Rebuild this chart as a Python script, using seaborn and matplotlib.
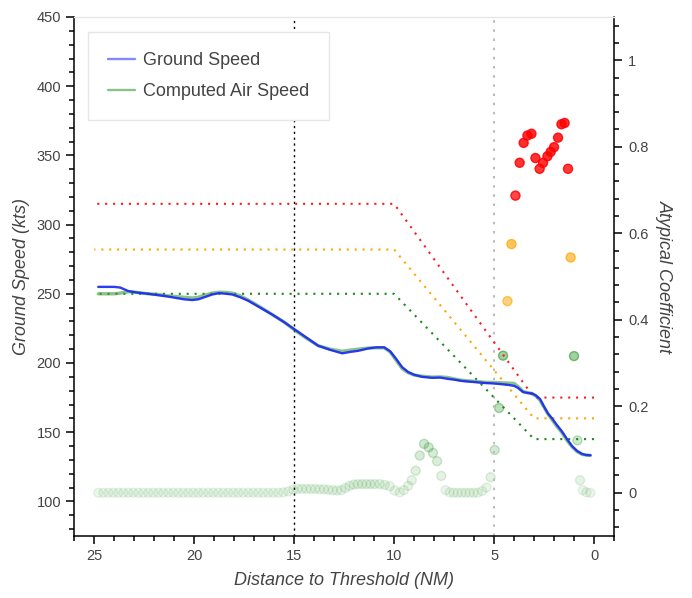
import numpy as np
import pandas as pd
import matplotlib
matplotlib.use("Agg")
import matplotlib.pyplot as plt
import seaborn as sns
from matplotlib.ticker import MultipleLocator
from matplotlib.lines import Line2D
from matplotlib.colors import to_rgba

# ---------------- data ----------------
speed_dist = [24.8, 24.0, 23.7, 23.3, 22.9, 22.3, 21.8, 21.3, 20.9, 20.5,
              20.1, 19.8, 19.5, 19.1, 18.75, 18.4, 18.1, 17.7, 17.3, 16.7,
              16.1, 15.5, 15.0, 14.4, 13.8, 13.2, 12.6, 12.2, 11.8, 11.3,
              10.9, 10.5, 10.2, 9.9, 9.6, 9.3, 9.0, 8.6, 8.1, 7.7,
              7.3, 7.0, 6.6, 6.2, 5.8, 5.4, 5.1, 4.7, 4.3, 4.0,
              3.8, 3.55, 3.3, 3.1, 2.9, 2.7, 2.5, 2.3, 2.1, 1.9,
              1.6, 1.35, 1.1, 0.85, 0.6, 0.4, 0.18]
ground_speed = [255, 255, 254.5, 252, 251, 250, 249, 248, 247, 246,
                245.5, 246, 247.5, 249.5, 250.5, 250, 249.5, 247.5, 245, 240,
                235, 229.5, 224.5, 218.5, 212.5, 209.5, 207, 208, 208.8, 210.5,
                211.3, 211.3, 208.5, 203, 197, 193.5, 191.5, 190, 189.3, 189.5,
                188.5, 188, 187, 186.5, 186, 185.5, 185.3, 184.8, 184.2, 183.5,
                182, 179, 178.3, 178, 176.5, 174, 168.5, 163.5, 160, 156,
                150.5, 145, 140, 136.5, 134.3, 133.5, 133.3]
air_speed = [250, 250, 250.5, 251.5, 251, 250, 249.5, 248.5, 248, 247.5,
             247, 247.5, 249, 250.5, 251.2, 251, 250.5, 248.5, 245.5, 240.5,
             235, 229.5, 224, 218, 212.5, 210, 208.5, 209.3, 210, 210.8,
             211, 211, 208, 202, 196, 193, 191.3, 190.5, 189.8, 190,
             189.5, 188.5, 187.5, 187, 186.5, 186, 186, 185.8, 185.5, 185.3,
             183, 179.5, 178.5, 178, 176, 173, 168, 163, 159, 155,
             149.5, 144, 139.5, 136, 134, 133.5, 133.3]

limit_dist = [25, 10, 3, 0]
limit_high = [315, 315, 175, 175]
limit_mid = [282, 282, 160, 160]
limit_low = [250, 250, 145, 145]

atyp_dist = [24.8, 24.55, 24.3, 24.05, 23.8, 23.55, 23.3, 23.05, 22.8, 22.55,
             22.3, 22.05, 21.8, 21.55, 21.3, 21.05, 20.8, 20.55, 20.3, 20.05,
             19.8, 19.55, 19.3, 19.05, 18.8, 18.55, 18.3, 18.05, 17.8, 17.55,
             17.3, 17.05, 16.8, 16.55, 16.3, 16.05, 15.8, 15.55, 15.3,
             15.05, 14.83, 14.61, 14.39, 14.17, 13.95, 13.73, 13.51, 13.29, 13.07,
             12.86, 12.65, 12.44, 12.23, 12.02, 11.81, 11.6, 11.39, 11.18, 10.97,
             10.72, 10.47, 10.22, 9.97, 9.72, 9.51, 9.3, 9.12, 8.92, 8.72,
             8.5, 8.27, 8.06, 7.85, 7.64, 7.43, 7.22, 7.02, 6.82, 6.62,
             6.42, 6.22, 6.02, 5.82, 5.6, 5.38, 5.17, 4.97, 4.75, 4.55,
             4.33, 4.13, 3.93, 3.72, 3.52, 3.33, 3.13, 2.93, 2.72, 2.55,
             2.33, 2.17, 2.0, 1.8, 1.63, 1.47, 1.3, 1.17, 1.0, 0.83,
             0.7, 0.56, 0.38, 0.18]
atyp_coef = [0, 0, 0, 0, 0, 0, 0, 0, 0, 0,
             0, 0, 0, 0, 0, 0, 0, 0, 0, 0,
             0, 0, 0, 0, 0, 0, 0, 0, 0, 0,
             0, 0, 0, 0, 0, 0, 0, 0.001, 0.003,
             0.007, 0.009, 0.009, 0.009, 0.009, 0.009, 0.008, 0.008, 0.007, 0.006,
             0.005, 0.006, 0.011, 0.016, 0.019, 0.02, 0.02, 0.02, 0.02, 0.02,
             0.02, 0.018, 0.015, 0.005, 0.001, 0.006, 0.016, 0.029, 0.051, 0.086,
             0.113, 0.105, 0.092, 0.073, 0.039, 0.006, 0.001, 0, 0, 0,
             0, 0, 0, 0, 0.004, 0.012, 0.036, 0.099, 0.196, 0.317,
             0.443, 0.575, 0.687, 0.763, 0.809, 0.826, 0.83, 0.774, 0.749, 0.763,
             0.778, 0.788, 0.799, 0.821, 0.852, 0.855, 0.749, 0.544, 0.316, 0.121,
             0.029, 0.006, 0.001, 0]

# ---------------- style ----------------
sns.set_theme(style="white")
plt.rcParams["font.family"] = ["Liberation Sans", "DejaVu Sans"]
TXT = "#444444"

fig = plt.figure(figsize=(6.92, 5.98), dpi=100)
ax = fig.add_axes([74.3 / 692, 1 - 536 / 598, (614 - 74.3) / 692, (536 - 17) / 598])
ax2 = ax.twinx()

speed_df = pd.DataFrame({"dist": speed_dist, "gs": ground_speed, "cas": air_speed})
limit_df = pd.DataFrame({"dist": limit_dist, "high": limit_high,
                         "mid": limit_mid, "low": limit_low})
pts_df = pd.DataFrame({"dist": atyp_dist, "coef": atyp_coef})

# vertical markers
ax.axvline(15, color="black", lw=1.0, linestyle=(0, (1.6, 2.6)), zorder=1)
ax.axvline(5, color="#bdbdbd", lw=1.5, linestyle=(0, (1.2, 3.2)), zorder=1)

# limit lines
for col, c in [("high", "#ff1a1a"), ("mid", "#ffa500"), ("low", "#1a8a1a")]:
    sns.lineplot(data=limit_df, x="dist", y=col, ax=ax, color=c, lw=1.5,
                 linestyle=(0, (1, 2.8)), estimator=None, legend=False, zorder=2)

# speed lines
sns.lineplot(data=speed_df, x="dist", y="cas", ax=ax, color="#3d9a3d", alpha=0.6,
             lw=2.4, estimator=None, legend=False, zorder=3)
sns.lineplot(data=speed_df, x="dist", y="gs", ax=ax, color="#1a2af5", alpha=0.92,
             lw=1.7, estimator=None, legend=False, zorder=4)

# atypical coefficient points
sns.scatterplot(data=pts_df, x="dist", y="coef", ax=ax2, color="green", s=42,
                linewidth=1.0, legend=False, zorder=2)
coef = np.asarray(atyp_coef)
face, edge = [], []
for v in coef:
    base = "#ff0000" if v >= 0.65 else ("#ffa500" if v >= 0.4 else "#008000")
    a = min(0.82, 0.07 + 0.95 * v)
    face.append(to_rgba(base, a))
    edge.append(to_rgba(base, min(0.85, a * 1.25)))
coll = ax2.collections[-1]
coll.set_facecolor(face)
coll.set_edgecolor(edge)

# draw speed axis on top of the points
ax.set_zorder(ax2.get_zorder() + 1)
ax.patch.set_visible(False)

# limits & ticks
ax.set_xlim(26, -1)
ax.set_ylim(75, 450)
ax2.set_ylim(-0.1, 1.1)
ax.xaxis.set_major_locator(MultipleLocator(5))
ax.xaxis.set_minor_locator(MultipleLocator(1))
ax.yaxis.set_major_locator(MultipleLocator(50))
ax.yaxis.set_minor_locator(MultipleLocator(10))
ax2.yaxis.set_major_locator(MultipleLocator(0.2))
ax2.yaxis.set_minor_locator(MultipleLocator(0.04))
ax2.set_yticks([0, 0.2, 0.4, 0.6, 0.8, 1.0])
ax2.set_yticklabels(["0", "0.2", "0.4", "0.6", "0.8", "1"])

for a_ in (ax, ax2):
    a_.grid(False)
    a_.tick_params(which="major", direction="out", length=6, width=1.1,
                   color="black", labelcolor=TXT, labelsize=10.5)
    a_.tick_params(which="minor", direction="out", length=3.6, width=1.1,
                   color="black")
ax.tick_params(axis="y", which="both", left=True, right=False, pad=3.5)
ax.tick_params(axis="x", which="both", bottom=True, top=False, pad=3)
ax2.tick_params(axis="y", which="both", right=True, left=False, pad=4)

for s in ("left", "bottom"):
    ax.spines[s].set_color("black")
    ax.spines[s].set_linewidth(1.1)
ax.spines["top"].set_color("#e6e6e6")
ax.spines["top"].set_linewidth(1.0)
ax.spines["right"].set_visible(False)
for s in ("left", "bottom", "top"):
    ax2.spines[s].set_visible(False)
ax2.spines["right"].set_color("black")
ax2.spines["right"].set_linewidth(1.1)

# labels
ax.set_xlabel("Distance to Threshold (NM)", fontsize=13, style="italic", color=TXT)
ax.set_ylabel("Ground Speed (kts)", fontsize=13, style="italic", color=TXT)
ax2.set_ylabel("Atypical Coefficient", fontsize=13, style="italic", color=TXT,
               rotation=270, va="bottom", rotation_mode="anchor")
ax.xaxis.set_label_coords(0.5, -0.07)
ax.yaxis.set_label_coords(-0.083, 0.5)
ax2.yaxis.set_label_coords(1.078, 0.5)

# legend
handles = [Line2D([], [], color="#1a2af5", alpha=0.55, lw=1.7),
           Line2D([], [], color="#3d9a3d", alpha=0.6, lw=1.7)]
leg = ax.legend(handles, ["Ground Speed", "Computed Air Speed"], loc="upper left",
                bbox_to_anchor=(0.025, 0.971), borderaxespad=0, fontsize=13,
                frameon=True, fancybox=False, framealpha=1, edgecolor="#e6e6e6",
                handlelength=1.5, handletextpad=0.45, borderpad=1.1,
                labelspacing=0.8)
leg.get_frame().set_linewidth(1.0)
for t in leg.get_texts():
    t.set_color(TXT)

fig.savefig("out.png", dpi=100, facecolor="white")
